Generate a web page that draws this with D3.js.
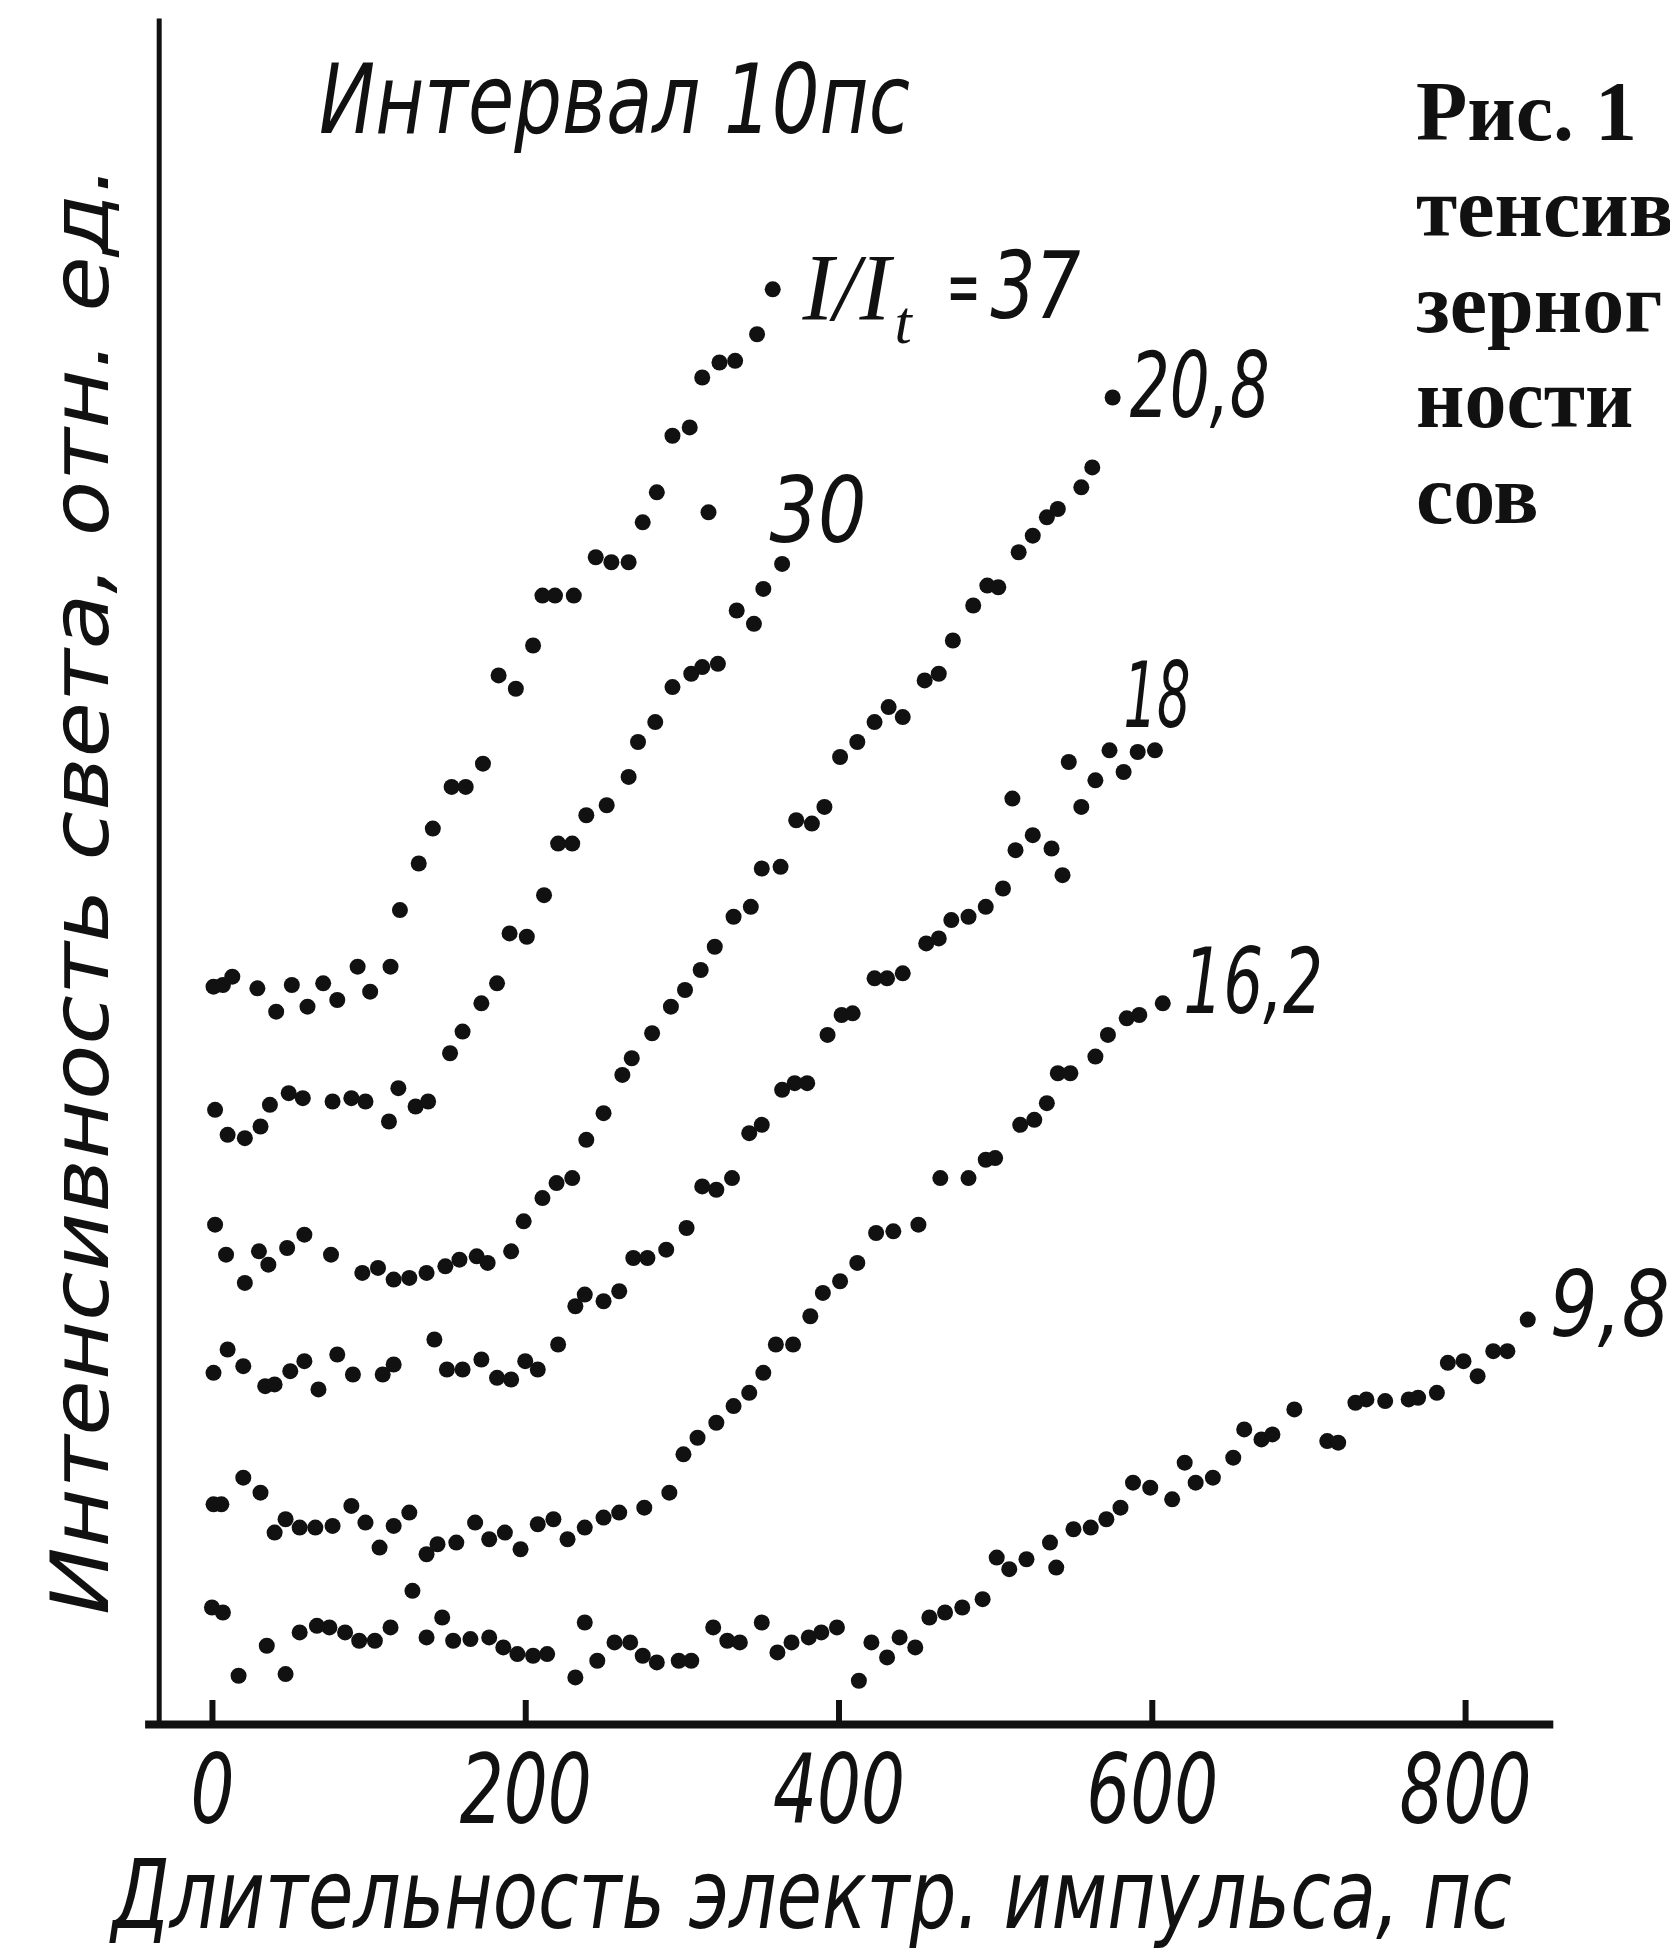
<!DOCTYPE html>
<html>
<head>
<meta charset="utf-8">
<script src="https://cdn.jsdelivr.net/npm/d3@7"></script>
<style>
body { margin: 0; background: #fff; }
svg { display: block; background: #fff; }
.hand { font-family: "DejaVu Sans", "Liberation Sans", sans-serif; font-style: italic; fill: #111; }
.serifI { font-family: "Liberation Serif", "DejaVu Serif", serif; font-style: italic; fill: #111; }
.cap { font-family: "Liberation Serif", "DejaVu Serif", serif; font-weight: bold; fill: #111; }
</style>
</head>
<body>
<svg width="1670" height="1948"></svg>
<script>
// pulse duration (ps) , light intensity (rel. units)
var s37 = [[1,44.3],[7,44.4],[13,44.9],[29,44.2],[41,42.8],[51,44.4],[61,43.1],[71,44.5],[80,43.5],[93,45.5],[101,44.0],[114,45.5],[120,48.9],[132,51.7],[141,53.8],[153,56.3],[162,56.3],[173,57.7],[183,63.0],[194,62.2],[205,64.8],[211,67.8],[219,67.8],[231,67.8],[245,70.1],[255,69.8],[266,69.8],[275,72.2],[284,74.0],[294,77.4],[305,77.9],[313,80.9],[324,81.8],[334,81.9],[348,83.5],[358,86.2]];
var s30 = [[2,36.9],[10,35.4],[21,35.2],[31,35.9],[37,37.2],[49,37.9],[58,37.6],[77,37.4],[89,37.6],[98,37.4],[113,36.2],[119,38.2],[130,37.1],[138,37.4],[152,40.3],[160,41.6],[172,43.3],[182,44.5],[190,47.5],[201,47.3],[212,49.8],[221,52.9],[230,52.9],[239,54.6],[252,55.2],[266,56.9],[272,59.0],[283,60.2],[294,62.3],[306,63.1],[313,63.5],[317,72.8],[323,63.7],[335,66.9],[346,66.1],[352,68.2],[364,69.7]];
var s208 = [[2,30.0],[9,28.2],[21,26.5],[30,28.4],[36,27.6],[48,28.6],[59,29.4],[76,28.2],[96,27.1],[106,27.4],[116,26.7],[126,26.8],[137,27.1],[149,27.5],[158,27.9],[169,28.1],[176,27.7],[191,28.4],[199,30.2],[211,31.6],[220,32.5],[230,32.8],[239,35.1],[250,36.7],[262,39.0],[268,40.0],[281,41.5],[293,43.1],[302,44.1],[312,45.3],[321,46.7],[333,48.5],[344,49.1],[351,51.4],[363,51.5],[373,54.3],[383,54.1],[391,55.1],[401,58.1],[412,59.0],[423,60.2],[432,61.1],[441,60.5],[455,62.7],[464,63.1],[473,65.1],[486,67.2],[495,68.4],[502,68.3],[515,70.4],[524,71.4],[533,72.5],[540,73.0],[555,74.3],[562,75.5],[575,79.7]];
var s18 = [[1,21.1],[10,22.5],[20,21.5],[34,20.3],[40,20.4],[50,21.2],[59,21.8],[68,20.1],[80,22.2],[90,21.0],[109,21.0],[116,21.6],[142,23.1],[150,21.3],[160,21.3],[172,21.9],[182,20.8],[191,20.7],[200,21.8],[208,21.3],[221,22.8],[232,25.1],[238,25.8],[250,25.4],[260,26.0],[269,28.0],[278,28.0],[290,28.5],[303,29.8],[313,32.3],[322,32.1],[332,32.8],[343,35.5],[351,36.0],[364,38.1],[372,38.5],[380,38.5],[393,41.4],[402,42.6],[409,42.7],[423,44.8],[431,44.8],[441,45.1],[456,46.9],[464,47.2],[472,48.3],[483,48.5],[494,49.1],[505,50.2],[511,55.6],[513,52.5],[524,53.4],[536,52.6],[543,51.0],[547,57.8],[555,55.1],[564,56.7],[573,58.5],[582,57.2],[591,58.4],[602,58.5]];
var s162 = [[1,13.2],[6,13.2],[20,14.8],[31,13.9],[40,11.5],[47,12.3],[56,11.8],[66,11.8],[77,11.9],[89,13.1],[98,12.1],[107,10.6],[116,11.9],[126,12.7],[137,10.2],[144,10.8],[156,10.9],[168,12.1],[177,11.1],[187,11.5],[197,10.5],[208,12.0],[218,12.3],[227,11.1],[238,11.8],[250,12.4],[260,12.7],[276,13.0],[292,13.9],[301,16.2],[310,17.2],[322,18.1],[333,19.1],[343,19.9],[352,21.1],[360,22.8],[371,22.8],[382,24.5],[390,25.9],[401,26.6],[412,27.7],[424,29.5],[435,29.6],[451,30.0],[465,32.8],[483,32.8],[494,33.9],[500,34.0],[516,36.0],[525,36.3],[533,37.3],[540,39.1],[548,39.1],[564,40.1],[572,41.4],[584,42.4],[592,42.6],[607,43.3]];
var s98 = [[0,7.0],[7,6.7],[17,2.9],[35,4.7],[47,3.0],[56,5.5],[67,5.9],[75,5.8],[85,5.5],[94,5.0],[104,5.0],[114,5.8],[128,8.0],[137,5.2],[147,6.4],[154,5.0],[165,5.1],[177,5.2],[186,4.6],[195,4.2],[205,4.1],[214,4.2],[232,2.8],[238,6.1],[246,3.8],[257,4.9],[267,4.9],[275,4.1],[284,3.7],[298,3.8],[306,3.8],[320,5.8],[329,5.0],[337,4.9],[351,6.1],[361,4.3],[370,4.9],[381,5.2],[389,5.5],[399,5.8],[413,2.6],[421,4.9],[431,4.0],[439,5.2],[449,4.6],[458,6.4],[468,6.7],[479,7.0],[492,7.5],[501,10.0],[509,9.3],[520,9.9],[535,10.9],[539,9.4],[550,11.7],[561,11.8],[571,12.3],[580,13.0],[588,14.5],[599,14.2],[613,13.5],[621,15.7],[628,14.5],[639,14.8],[652,16.0],[659,17.7],[670,17.1],[677,17.4],[691,18.9],[712,17.0],[719,16.9],[730,19.3],[737,19.5],[749,19.4],[764,19.5],[770,19.6],[782,19.9],[789,21.7],[799,21.8],[808,20.9],[818,22.4],[827,22.4],[840,24.3]];

var xTicks = [0, 200, 400, 600, 800];
// I/I_t labels (the 37 one is drawn with its formula)
var ratioLabels = ["30", "20,8", "18", "16,2", "9,8"];
var ratioAt = [[356, 71.0], [586, 78.5], [582, 59.9], [620, 42.7], [854, 23.3]];
var captionLines = ["Рис.  1", "тенсив", "зерног", "ности", "сов"];

var svg = d3.select("svg");

var x = d3.scaleLinear().domain([-43, 856]).range([144.6, 1552.8]);
var y = d3.scaleLinear().domain([0, 102.5]).range([1724, 18]);

// axes
var gx = svg.append("g")
    .attr("transform", "translate(0," + y(0) + ")")
    .call(d3.axisBottom(x).tickValues(xTicks).tickSizeInner(-24).tickSizeOuter(0).tickFormat(d3.format("d")));
gx.select(".domain").attr("stroke", "#111").attr("stroke-width", 8);
gx.selectAll(".tick line").attr("stroke", "#111").attr("stroke-width", 6);
gx.selectAll(".tick text")
    .attr("class", "hand")
    .attr("y", 99).attr("dy", null)
    .attr("font-size", 96)
    .attr("textLength", function(d) { return String(d).length * 44; })
    .attr("lengthAdjust", "spacingAndGlyphs");

var gy = svg.append("g")
    .attr("transform", "translate(" + x(-34) + ",0)")
    .call(d3.axisLeft(y).tickValues([]).tickSizeOuter(0));
gy.select(".domain").attr("stroke", "#111").attr("stroke-width", 5);

// dots
var allSeries = [s37, s30, s208, s18, s162, s98];
svg.append("g").selectAll("g")
    .data(allSeries)
  .enter().append("g")
  .selectAll("circle")
    .data(function(d) { return d; })
  .enter().append("circle")
    .attr("cx", function(d) { return x(d[0]); })
    .attr("cy", function(d) { return y(d[1]); })
    .attr("r", 8)
    .attr("fill", "#111");

// ratio labels
svg.append("g").selectAll("text")
    .data(ratioLabels)
  .enter().append("text")
    .attr("class", "hand")
    .attr("x", function(d, i) { return x(ratioAt[i][0]); })
    .attr("y", function(d, i) { return y(ratioAt[i][1]); })
    .attr("font-size", 90)
    .attr("textLength", function(d) { return d.length == 2 ? (d == "30" ? 97 : 67) : d.length == 3 ? 120 : 140; })
    .attr("lengthAdjust", "spacingAndGlyphs")
    .text(function(d) { return d; });

var lx = x(377), ly = y(84.35);
var g37 = svg.append("g");
g37.append("text").attr("class", "serifI").attr("x", lx).attr("y", ly)
    .attr("font-size", 96).attr("textLength", 88).attr("lengthAdjust", "spacingAndGlyphs").text("I/I");
g37.append("text").attr("class", "serifI").attr("x", lx + 92).attr("y", ly + 23)
    .attr("font-size", 62).text("t");
g37.append("text").attr("class", "hand").attr("x", lx + 144).attr("y", ly - 6)
    .attr("font-size", 80).attr("textLength", 34).attr("lengthAdjust", "spacingAndGlyphs").text("=");
g37.append("text").attr("class", "hand").attr("x", lx + 188).attr("y", ly - 2)
    .attr("font-size", 92).attr("textLength", 90).attr("lengthAdjust", "spacingAndGlyphs").text("37");

// titles
svg.append("text").attr("class", "hand")
    .attr("x", 319).attr("y", 133)
    .attr("font-size", 96).attr("textLength", 591).attr("lengthAdjust", "spacingAndGlyphs")
    .text("Интервал 10пс");

svg.append("text").attr("class", "hand")
    .attr("x", 112).attr("y", 1928)
    .attr("font-size", 96).attr("textLength", 1400).attr("lengthAdjust", "spacingAndGlyphs")
    .text("Длительность  электр. импульса, пс");

svg.append("text").attr("class", "hand")
    .attr("transform", "translate(108,1615) rotate(-90)")
    .attr("font-size", 80).attr("textLength", 1450).attr("lengthAdjust", "spacingAndGlyphs")
    .text("Интенсивность  света, отн. ед.");

// caption fragment cut by the page edge
svg.append("g").selectAll("text")
    .data(captionLines)
  .enter().append("text")
    .attr("class", "cap")
    .attr("x", 1416)
    .attr("y", function(d, i) { return 140 + i * 95.75; })
    .attr("font-size", 84)
    .text(function(d) { return d; });
</script>
</body>
</html>
